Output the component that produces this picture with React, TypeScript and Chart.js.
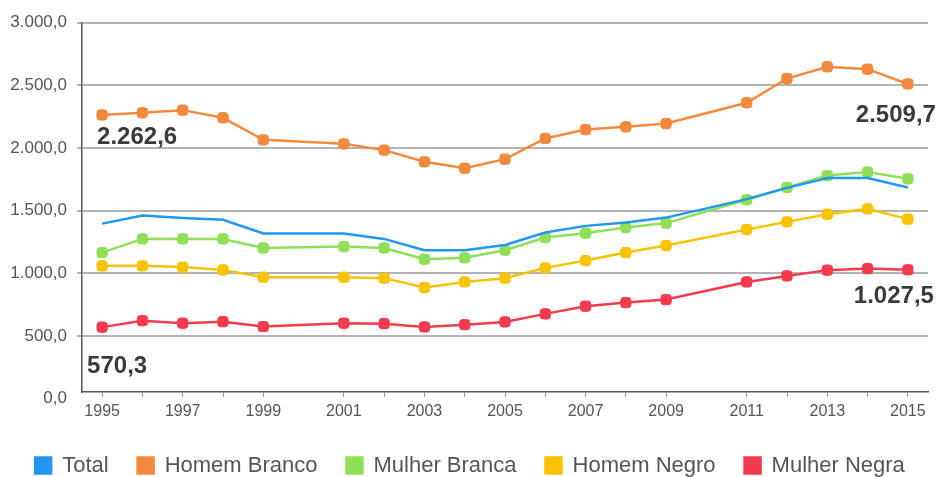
import React, { useEffect, useRef } from "react";
import { Chart, registerables } from "chart.js";

Chart.register(...registerables);

const years = [1995, 1996, 1997, 1998, 1999, 2001, 2002, 2003, 2004, 2005, 2006, 2007, 2008, 2009, 2011, 2012, 2013, 2014, 2015];

const total = [1396, 1460, 1440, 1426, 1317, 1317, 1274, 1184, 1184, 1226, 1325, 1378, 1404, 1444, 1591, 1681, 1759, 1759, 1684];
const homemBranco = [2262.6, 2280, 2301, 2240, 2064, 2032, 1982, 1889, 1838, 1910, 2075, 2146, 2168, 2194, 2360, 2553, 2647, 2628, 2509.7];
const mulherBranca = [1165, 1274, 1274, 1274, 1202, 1213, 1202, 1112, 1123, 1184, 1285, 1320, 1365, 1400, 1586, 1684, 1779, 1807, 1753];
const homemNegro = [1059, 1059, 1049, 1027, 969, 969, 961, 886, 931, 961, 1043, 1101, 1165, 1221, 1349, 1410, 1471, 1514, 1432];
const mulherNegra = [570.3, 622, 602, 614, 575, 602, 598, 572, 590, 612, 676, 737, 766, 790, 931, 979, 1025, 1037, 1027.5];

const yTicks = [0, 500, 1000, 1500, 2000, 2500, 3000];

const seriesNames = ["Total", "Homem Branco", "Mulher Branca", "Homem Negro", "Mulher Negra"];
const seriesColors = ["#2196F3", "#F2893C", "#8FDF58", "#F8C300", "#F43B4E"];

const FONT = "'Liberation Sans', Arial, sans-serif";

const fmt = (v: number) => {
  const s = Number(v).toFixed(1);
  const [i, d] = s.split(".");
  return i.replace(/\B(?=(\d{3})+(?!\d))/g, ".") + "," + d;
};

const valueLabelPlugin = {
  id: "valueLabels",
  afterDatasetsDraw(chart: any, _args: any, opts: any) {
    const { ctx } = chart;
    ctx.save();
    ctx.font = `bold ${opts.size}px ${FONT}`;
    ctx.fillStyle = opts.color;
    ctx.textAlign = "center";
    ctx.textBaseline = "middle";
    for (const l of opts.items) {
      const meta = chart.getDatasetMeta(l.dataset);
      const el = meta.data[l.index];
      if (!el) continue;
      const v = chart.data.datasets[l.dataset].data[l.index].y;
      ctx.fillText(fmt(v), el.x + l.dx, el.y + l.dy);
    }
    ctx.restore();
  },
};

export default function App() {
  const ref = useRef<HTMLCanvasElement>(null);
  useEffect(() => {
    if (!ref.current) return;
    const allSeries = [total, homemBranco, mulherBranca, homemNegro, mulherNegra];
    const datasets = allSeries.map((s, k) => ({
      label: seriesNames[k],
      data: s.map((v, i) => ({ x: years[i], y: v })),
      borderColor: seriesColors[k],
      backgroundColor: seriesColors[k],
      borderWidth: 2.5,
      pointRadius: k === 0 ? 0 : 6,
      pointStyle: "rectRounded",
      pointBorderWidth: 1,
      pointBorderColor: seriesColors[k],
      pointBackgroundColor: seriesColors[k],
      tension: 0,
    }));
    const chart = new Chart(ref.current, {
      type: "line",
      data: { datasets },
      plugins: [valueLabelPlugin],
      options: {
        animation: false,
        responsive: false,
        layout: { padding: { top: 22.5, right: 0, bottom: -9.5, left: 0 } },
        scales: {
          x: {
            type: "linear",
            min: 1994.5,
            max: 2015.5,
            afterBuildTicks: (scale: any) => {
              scale.ticks = years.map((v) => ({ value: v }));
            },
            afterFit: (scale: any) => {
              scale.height = 33.5;
            },
            ticks: {
              autoSkip: false,
              maxRotation: 0,
              padding: 5,
              color: "#555",
              font: { family: FONT, size: 16 },
              callback: (v: any) => (Number(v) % 2 === 1 ? String(v) : ""),
            },
            grid: { drawOnChartArea: false, drawTicks: true, tickLength: 5, color: "#999", lineWidth: 1 },
            border: { color: "#555", width: 1.5 },
          },
          y: {
            min: 53,
            max: 3000,
            afterBuildTicks: (scale: any) => {
              scale.ticks = yTicks.map((v) => ({ value: v }));
            },
            afterFit: (scale: any) => {
              scale.width = 82;
            },
            ticks: {
              padding: 10,
              color: "#555",
              font: { family: FONT, size: 17 },
              callback: (v: any) => fmt(Number(v)),
            },
            grid: {
              color: (c: any) => (c.tick && c.tick.value === 0 ? "rgba(0,0,0,0)" : "#b3b3b3"),
              lineWidth: 2,
              tickLength: 5,
            },
            border: { color: "#555", width: 1.5 },
          },
          yRight: {
            position: "right",
            display: true,
            ticks: { display: false },
            grid: { display: false },
            border: { display: false },
            afterFit: (scale: any) => {
              scale.width = 12;
            },
          },
        },
        plugins: {
          legend: {
            position: "bottom",
            labels: {
              boxWidth: 16,
              boxHeight: 16,
              padding: 29,
              color: "#555",
              font: { family: FONT, size: 22 },
            },
          },
          tooltip: { enabled: false },
          valueLabels: {
            size: 24,
            color: "#3a3a3a",
            items: [
              { dataset: 1, index: 0, dx: 35, dy: 22 },
              { dataset: 1, index: 18, dx: -12, dy: 31 },
              { dataset: 4, index: 0, dx: 15, dy: 39 },
              { dataset: 4, index: 18, dx: -14, dy: 27 },
            ],
          },
        } as any,
      },
    } as any);
    return () => chart.destroy();
  }, []);
  return (
    <div style={{ position: "absolute", left: 0, top: 0, width: 940, height: 477, background: "#fff" }}>
      <canvas ref={ref} width={940} height={477} />
    </div>
  );
}
